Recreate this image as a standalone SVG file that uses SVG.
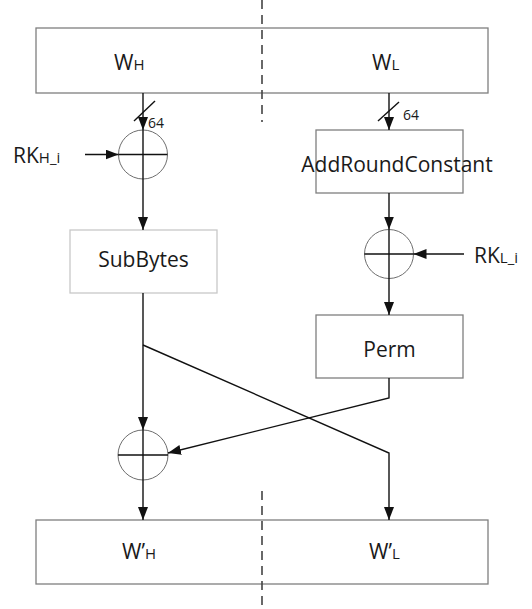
<svg xmlns="http://www.w3.org/2000/svg" width="532" height="609" viewBox="0 0 532 609">
  <style>
    .box { fill: #fff; stroke: #7f7f7f; stroke-width: 1.3; }
    .light { fill: #fff; stroke: #c8c8c8; stroke-width: 1.3; }
    .xor { fill: none; stroke: #6e6e6e; stroke-width: 1; }
    .wire { fill: none; stroke: #111; stroke-width: 1.4; }
    .dash { stroke: #444; stroke-width: 1.6; stroke-dasharray: 9 6; }
    .lbl { font-family: "Open Sans", "Liberation Sans", sans-serif; font-size: 21px; fill: #1a1a1a; }
    .sm { font-size: 15px; }
    .num { font-family: "Open Sans", "Liberation Sans", sans-serif; font-size: 14px; fill: #1a1a1a; }
  </style>
  <defs>
    <marker id="arrow" markerUnits="userSpaceOnUse" markerWidth="14" markerHeight="12" refX="13" refY="5" orient="auto">
      <path d="M0,0 L13,5 L0,10 Z" fill="#111"/>
    </marker>
  </defs>

  <rect width="532" height="609" fill="#fff"/>

  <!-- state before the round -->
  <g id="state-in">
    <rect class="box" x="36" y="28" width="452" height="65"/>
    <text class="lbl" x="114" y="70">W<tspan class="sm">H</tspan></text>
    <text class="lbl" x="372" y="70">W<tspan class="sm">L</tspan></text>
  </g>

  <!-- state after the round -->
  <g id="state-out">
    <rect class="box" x="36" y="520" width="452" height="64"/>
    <text class="lbl" x="122" y="559">W’<tspan class="sm">H</tspan></text>
    <text class="lbl" x="369" y="559">W’<tspan class="sm">L</tspan></text>
  </g>

  <!-- half split markers -->
  <g id="split">
    <line class="dash" x1="262" y1="0" x2="262" y2="122"/>
    <line class="dash" x1="262" y1="491" x2="262" y2="609"/>
  </g>

  <g id="subbytes">
    <rect class="light" x="70" y="230" width="147" height="63"/>
    <text class="lbl" x="143.5" y="267" text-anchor="middle">SubBytes</text>
  </g>

  <g id="addroundconstant">
    <rect class="box" x="316" y="130" width="147" height="63"/>
    <text class="lbl" x="397" y="172" text-anchor="middle">AddRoundConstant</text>
  </g>

  <g id="perm">
    <rect class="box" x="316" y="315" width="147" height="63"/>
    <text class="lbl" x="389.5" y="357" text-anchor="middle">Perm</text>
  </g>

  <g id="xor-key-high">
    <circle class="xor" cx="143" cy="154.5" r="24.5"/>
    <line class="wire" x1="118.5" y1="154.5" x2="167.5" y2="154.5"/>
  </g>

  <g id="xor-key-low">
    <circle class="xor" cx="389" cy="254" r="24.5"/>
    <line class="wire" x1="364.5" y1="254" x2="413.5" y2="254"/>
  </g>

  <g id="xor-mix">
    <circle class="xor" cx="143" cy="455" r="25"/>
    <line class="wire" x1="118" y1="455" x2="168" y2="455"/>
  </g>

  <g id="key-high">
    <text class="lbl" x="13" y="163">RK<tspan class="sm">H_i</tspan></text>
  </g>

  <g id="key-low">
    <text class="lbl" x="474" y="263">RK<tspan class="sm">L_i</tspan></text>
  </g>

  <g id="connectors">
    <!-- high half -->
    <line class="wire" x1="143" y1="93" x2="143" y2="130" marker-end="url(#arrow)"/>
    <line class="wire" x1="134" y1="121" x2="155" y2="101"/>
    <text class="num" x="148" y="128">64</text>
    <line class="wire" x1="143" y1="130" x2="143" y2="230" marker-end="url(#arrow)"/>
    <line class="wire" x1="85" y1="154.5" x2="118.5" y2="154.5" marker-end="url(#arrow)"/>
    <line class="wire" x1="143" y1="293" x2="143" y2="430" marker-end="url(#arrow)"/>
    <line class="wire" x1="143" y1="430" x2="143" y2="520" marker-end="url(#arrow)"/>

    <!-- low half -->
    <line class="wire" x1="389" y1="93" x2="389" y2="130" marker-end="url(#arrow)"/>
    <line class="wire" x1="378" y1="121" x2="399" y2="102"/>
    <text class="num" x="403" y="120">64</text>
    <line class="wire" x1="389" y1="193" x2="389" y2="229.5" marker-end="url(#arrow)"/>
    <line class="wire" x1="464" y1="254" x2="413.5" y2="254" marker-end="url(#arrow)"/>
    <line class="wire" x1="389" y1="229.5" x2="389" y2="315" marker-end="url(#arrow)"/>

    <!-- cross-over between halves -->
    <polyline class="wire" points="143,345 389,453 389,520" marker-end="url(#arrow)"/>
    <polyline class="wire" points="389,378 389,398 168,453" marker-end="url(#arrow)"/>
  </g>
</svg>
